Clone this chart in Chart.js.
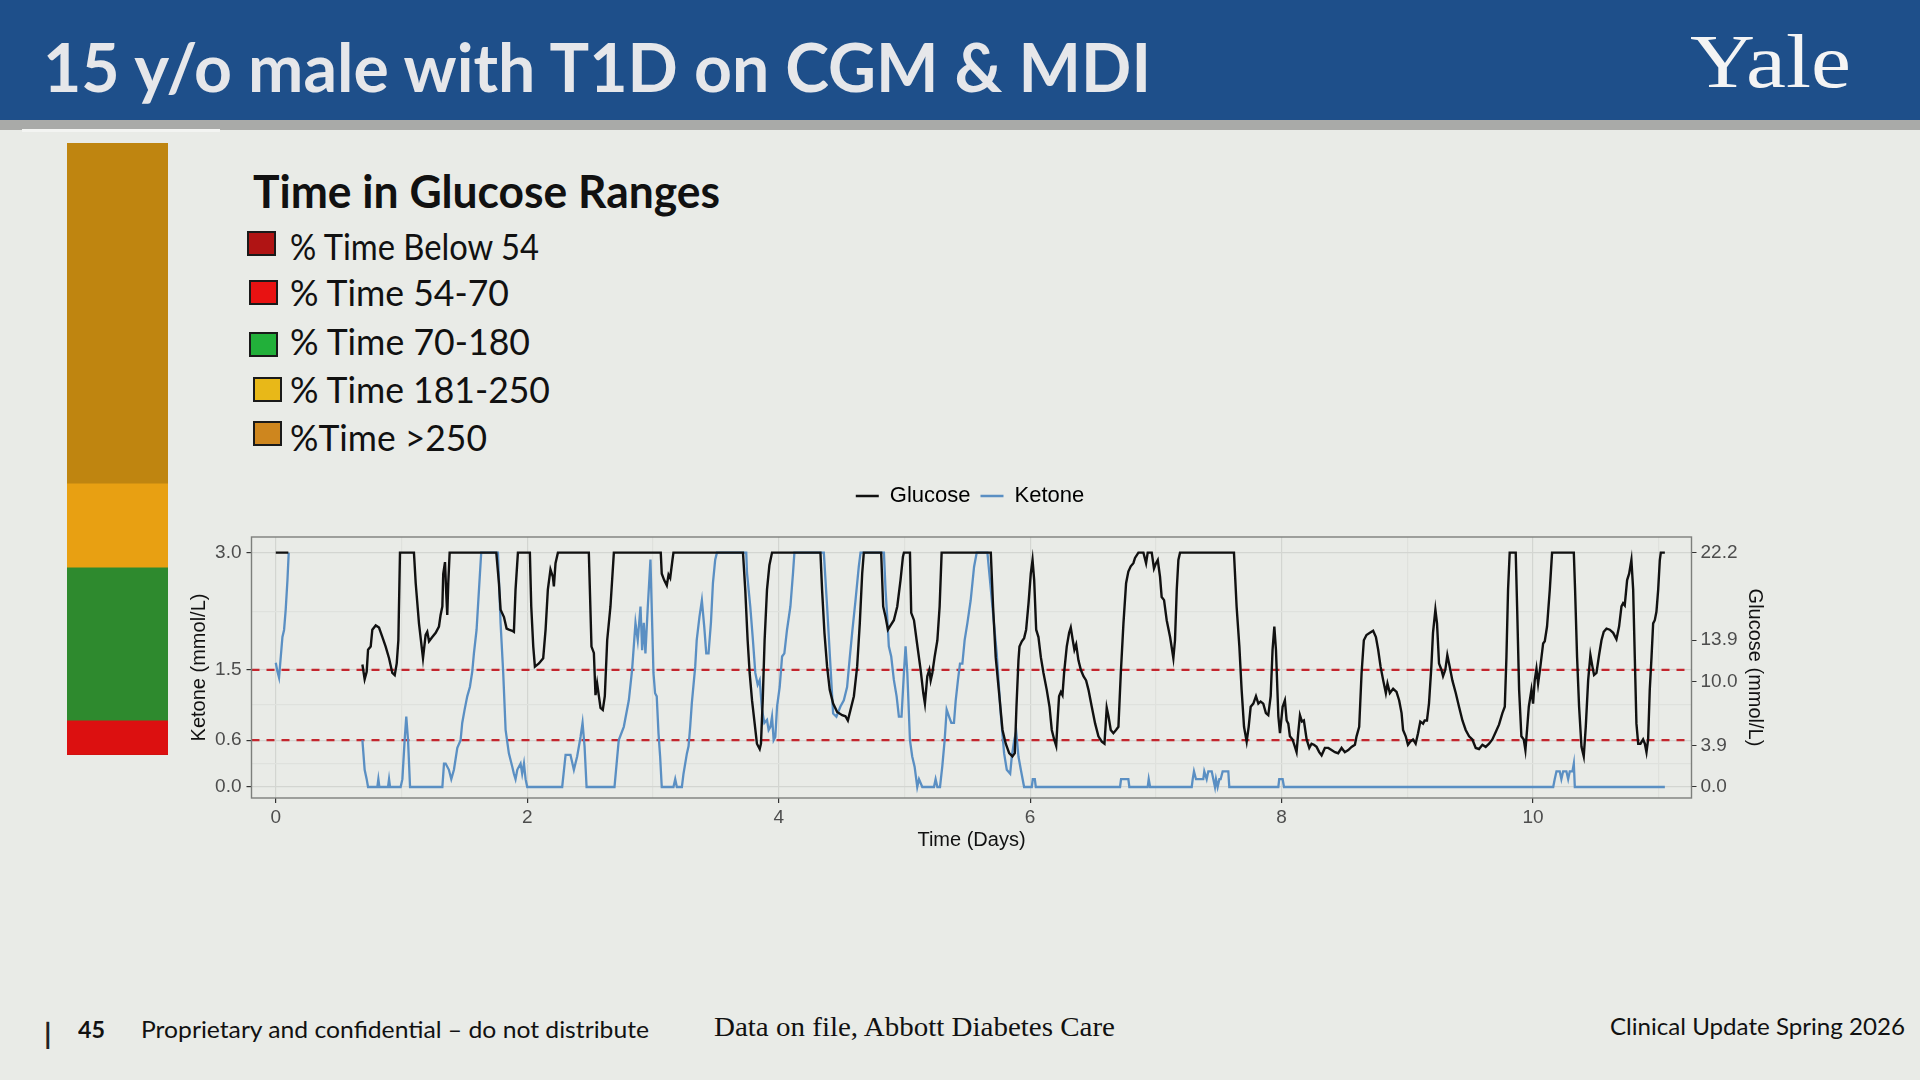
<!DOCTYPE html>
<html>
<head>
<meta charset="utf-8">
<script src="https://cdn.jsdelivr.net/npm/chart.js@4.4.1/dist/chart.umd.min.js"></script>
<style>
  html, body { margin: 0; padding: 0; }
  body { width: 1920px; height: 1080px; background: #e9ebe7; position: relative; overflow: hidden; }
  #header { position: absolute; left: 0; top: 0; width: 1920px; height: 120px; background: #1e4f8a; }
  #stripe { position: absolute; left: 0; top: 120px; width: 1920px; height: 10px; background: #a9aaa8; }
  #stripe2 { position: absolute; left: 22px; top: 129px; width: 198px; height: 3px; background: #f3f4f2; }
  .t { position: absolute; white-space: nowrap; transform-origin: 0 0; line-height: 1.2; }
  .sq { position: absolute; width: 25px; height: 21px; border: 2px solid #1a1a1a; }
  #barBox { position: absolute; left: 67px; top: 143px; width: 101px; height: 612px; }
  #cgmBox { position: absolute; left: 140px; top: 465px; width: 1660px; height: 395px; }
</style>
</head>
<body>
<div id="header"></div>
<div id="stripe"></div>
<div id="stripe2"></div>

<div class="t" data-base="92" data-w="1108" style="left:43px;font:700 66px Lato;color:#e6e7ea;">15 y/o male with T1D on CGM &amp; MDI</div>
<div class="t" data-base="87" data-w="161" style="left:1690px;font:400 76px 'Liberation Serif';color:#f4f4f4;">Yale</div>

<div id="barBox"><canvas id="barChart"></canvas></div>

<div class="t" data-base="208" data-w="467" style="left:253px;font:700 46px Lato;color:#111;">Time in Glucose Ranges</div>
<div id="rangeLegend"></div>

<div id="cgmBox"><canvas id="cgmChart"></canvas></div>

<div class="t" data-base="1044" style="left:44px;font:700 29px Lato;color:#222;">|</div>
<div class="t" data-base="1038" data-w="27" style="left:78px;font:700 23px Lato;color:#111;">45</div>
<div class="t" data-base="1038" data-w="508" style="left:141px;font:400 23px Lato;color:#111;">Proprietary and confidential – do not distribute</div>
<div class="t" data-base="1036" data-w="401" style="left:714px;font:400 27px 'Liberation Serif';color:#111;">Data on file, Abbott Diabetes Care</div>
<div class="t" data-base="1035" data-w="295" style="left:1610px;font:400 24px Lato;color:#111;">Clinical Update Spring 2026</div>

<script>
// time in range summary (percent of time)
const rangeLabels = ['% Time Below 54', '% Time 54-70', '% Time 70-180', '% Time 181-250', '%Time >250'];
const rangePercent = [0, 5.6, 25.0, 13.7, 55.7];

// CGM trace, glucose in mmol/L (sensor tops out at 22.2), null = no data
const glucoseDay = [
  0.000, 0.100, 0.400,
  0.689, 0.707, 0.723, 0.734, 0.755, 0.768, 0.795, 0.821, 0.848, 0.874, 0.901, 0.927, 0.946, 0.962, 0.975, 0.988,
  1.099, 1.113, 1.139, 1.171, 1.192, 1.205, 1.219, 1.245, 1.272, 1.298, 1.311, 1.325, 1.332, 1.346, 1.356, 1.364, 1.372, 1.383,
  1.754, 1.775, 1.788, 1.815, 1.836, 1.854, 1.881, 1.894, 1.907, 1.926,
  2.021, 2.032, 2.048, 2.061, 2.093, 2.127, 2.146, 2.164, 2.185, 2.204, 2.212, 2.225, 2.244,
  2.490, 2.511, 2.530, 2.543, 2.556, 2.570, 2.583, 2.601, 2.617, 2.636, 2.662, 2.689,
  3.062, 3.070, 3.089, 3.110, 3.124, 3.137, 3.155, 3.163,
  3.716, 3.734, 3.753, 3.769, 3.788, 3.809, 3.827, 3.849, 3.859, 3.873, 3.888, 3.907, 3.926, 3.947,
  4.332, 4.345, 4.364, 4.385, 4.406, 4.433, 4.465, 4.505, 4.531, 4.550, 4.571, 4.598, 4.624, 4.645, 4.664, 4.677,
  4.815, 4.831, 4.850, 4.869, 4.890, 4.916, 4.943, 4.969, 4.988, 4.996,
  5.044, 5.054, 5.076, 5.097, 5.129, 5.150, 5.163, 5.182, 5.198, 5.209, 5.222, 5.240, 5.262, 5.280, 5.296,
  5.687, 5.705, 5.726, 5.753, 5.780, 5.806, 5.833, 5.859, 5.878, 5.891, 5.907,
  5.915, 5.934, 5.952, 5.968, 5.987, 6.005, 6.019, 6.032, 6.048, 6.066, 6.085, 6.106, 6.132, 6.154, 6.172, 6.191, 6.207,
  6.217, 6.230, 6.244, 6.257, 6.270, 6.291, 6.310, 6.323, 6.339, 6.352, 6.366, 6.384, 6.403, 6.424, 6.445, 6.464, 6.490,
  6.517, 6.543, 6.570, 6.591, 6.609, 6.623, 6.641, 6.662, 6.683, 6.702, 6.721, 6.742, 6.763, 6.781, 6.800, 6.821, 6.834,
  6.861, 6.901, 6.922, 6.935, 6.967, 6.985, 7.001, 7.015, 7.033, 7.046, 7.065, 7.086, 7.113, 7.139, 7.152, 7.166, 7.179, 7.192,
  7.621, 7.642, 7.664, 7.682, 7.701, 7.722, 7.738, 7.754, 7.775, 7.796, 7.815, 7.833, 7.854, 7.875, 7.894, 7.913, 7.928,
  7.942, 7.955, 7.974, 7.987, 8.008, 8.026, 8.040, 8.053, 8.066, 8.087, 8.106, 8.119, 8.132, 8.146, 8.162, 8.177, 8.199,
  8.220, 8.238, 8.257, 8.278, 8.299, 8.318, 8.344, 8.371, 8.397, 8.424, 8.450, 8.477, 8.503, 8.530, 8.556, 8.583, 8.596,
  8.617, 8.636, 8.654, 8.675, 8.702, 8.728, 8.750, 8.768, 8.787, 8.808, 8.829, 8.842, 8.861, 8.887, 8.914, 8.935, 8.954,
  8.966, 8.987, 9.005, 9.024, 9.045, 9.066, 9.085, 9.103, 9.125, 9.138, 9.156, 9.172, 9.191, 9.204, 9.223, 9.236, 9.252,
  9.271, 9.284, 9.302, 9.318, 9.337, 9.358, 9.385, 9.411, 9.438, 9.464, 9.491, 9.517, 9.544, 9.570, 9.597, 9.623, 9.650,
  9.676, 9.703, 9.729, 9.756, 9.775, 9.788, 9.801, 9.814, 9.862, 9.873, 9.889, 9.907, 9.926, 9.939, 9.952, 9.966, 9.987,
  10.000, 10.013, 10.027, 10.040, 10.058, 10.080, 10.093, 10.111, 10.133, 10.151,
  10.324, 10.334, 10.350, 10.366, 10.385, 10.403, 10.419, 10.438, 10.456, 10.472, 10.485, 10.504, 10.525, 10.544, 10.562,
  10.584, 10.610, 10.637, 10.663, 10.684, 10.703, 10.716, 10.729, 10.748, 10.764, 10.782, 10.796, 10.809, 10.822, 10.836,
  10.854, 10.875, 10.889, 10.902, 10.915, 10.928, 10.942, 10.955, 10.968, 10.981, 10.995, 11.008, 11.016, 11.048
];
const glucoseMmol = [
  22.2, 22.2, null,
  11.6, 10.2, 10.9, 13.0, 13.3, 14.9, 15.3, 15.1, 14.2, 13.3, 12.2, 10.8, 10.6, 11.7, 13.9, 22.2,
  22.2, 19.3, 15.5, 12.2, 14.4, 14.7, 13.8, 14.2, 14.6, 15.2, 16.3, 17.1, 20.2, 21.3, 18.3, 16.3, 19.3, 22.2,
  22.2, 19.3, 16.8, 16.1, 15.0, 14.9, 14.8, 14.7, 18.7, 22.2,
  22.2, 17.1, 13.3, 11.4, 11.7, 12.2, 14.9, 18.7, 20.6, 19.9, 19.0, 21.2, 22.2,
  22.2, 13.3, 12.7, 8.7, 9.8, 8.6, 7.5, 7.3, 8.6, 13.9, 17.1, 22.2,
  22.2, 20.2, 19.6, 19.1, 20.1, 19.8, 21.5, 22.2,
  22.2, 18.7, 13.9, 10.8, 8.2, 6.0, 4.1, 3.6, 4.1, 8.2, 13.9, 18.7, 21.0, 22.2,
  22.2, 18.7, 14.6, 11.4, 9.2, 7.9, 7.1, 6.8, 6.7, 6.3, 7.3, 8.6, 11.4, 15.5, 20.2, 22.2,
  22.2, 17.1, 16.1, 14.9, 15.3, 15.8, 17.1, 19.6, 21.8, 22.2,
  22.2, 16.5, 15.8, 13.9, 11.1, 8.9, 7.9, 10.5, 11.1, 10.1, 10.8, 12.3, 13.9, 17.1, 22.2,
  22.2, 17.1, 12.3, 8.9, 5.4, 4.1, 3.2, 2.9, 3.2, 7.6, 12.0,
  13.3, 13.8, 14.1, 14.9, 17.4, 20.2, 21.5, 19.6, 14.9, 14.2, 12.3, 10.8, 9.2, 7.6, 5.4, 4.5, 3.9,
  6.0, 8.6, 9.0, 8.7, 10.8, 13.3, 14.6, 15.1, 13.9, 13.0, 13.5, 12.0, 11.1, 10.5, 10.1, 9.2, 7.6,
  6.0, 4.8, 4.3, 4.1, 7.5, 6.7, 5.4, 5.1, 5.4, 5.7, 10.8, 15.5, 19.3, 20.4, 20.9, 21.2, 21.7,
  22.2, 22.2, 21.2, 22.2, 22.2, 20.7, 21.2, 21.5, 19.9, 18.0, 17.7, 15.8, 14.2, 12.2, 13.9, 18.7, 21.5, 22.2,
  22.2, 17.1, 13.3, 9.2, 5.7, 4.3, 5.7, 7.6, 7.9, 8.6, 7.9, 8.1, 7.9, 7.0, 6.8, 8.6, 13.0,
  15.2, 13.0, 6.7, 5.1, 7.6, 8.2, 6.3, 6.0, 4.8, 4.5, 3.8, 3.3, 5.1, 6.8, 6.2, 6.3, 4.5,
  3.7, 4.1, 4.0, 3.8, 3.3, 3.0, 3.7, 3.7, 3.5, 3.3, 3.2, 3.7, 3.3, 3.5, 3.8, 4.0, 4.8,
  5.7, 10.8, 13.9, 14.4, 14.6, 14.8, 14.2, 13.0, 11.4, 10.1, 8.9, 9.8, 8.9, 9.3, 9.0, 8.2, 7.0,
  5.4, 4.8, 4.0, 4.3, 4.5, 4.1, 5.1, 6.2, 6.0, 6.3, 6.3, 7.9, 11.4, 14.6, 16.8, 15.5, 11.7,
  11.1, 10.5, 11.1, 12.5, 11.4, 10.1, 8.9, 7.6, 6.3, 5.4, 4.8, 4.5, 3.7, 3.6, 4.0, 3.8, 4.1,
  4.5, 5.2, 5.9, 7.0, 7.6, 12.3, 18.7, 22.2, 22.2, 17.1, 9.2, 4.8, 4.5, 3.5, 5.4, 7.6, 9.2,
  7.9, 10.1, 11.2, 9.8, 11.4, 13.6, 13.8, 15.2, 18.7, 22.2,
  22.2, 18.7, 12.3, 7.6, 3.8, 2.9, 5.7, 10.1, 12.5, 11.4, 10.6, 10.8, 12.5, 13.9, 14.7,
  15.0, 14.9, 14.6, 14.0, 15.2, 17.1, 17.4, 17.2, 19.6, 20.2, 21.5, 18.7, 12.3, 6.0, 4.1,
  4.1, 4.5, 4.1, 3.3, 4.5, 9.2, 12.3, 15.5, 15.8, 16.6, 18.7, 21.5, 22.2, 22.2
];

// blood ketone in mmol/L, null = no data
const ketoneDay = [
  0.000, 0.013, 0.026, 0.040, 0.053, 0.066, 0.079, 0.093, 0.103, 0.400,
  0.689, 0.707, 0.723, 0.734, 0.808, 0.816, 0.824, 0.893, 0.901, 0.909, 0.993, 1.007, 1.025, 1.038, 1.052, 1.068,
  1.325, 1.338, 1.351, 1.377, 1.396, 1.417, 1.444, 1.470, 1.483, 1.502, 1.523, 1.544, 1.563, 1.576, 1.597, 1.616, 1.634,
  1.767, 1.788, 1.809, 1.828, 1.854, 1.881, 1.894, 1.907, 1.921, 1.947, 1.960, 1.974, 1.987, 2.000,
  2.278, 2.305, 2.344, 2.371, 2.397, 2.424, 2.440, 2.456, 2.472,
  2.694, 2.728, 2.768, 2.808, 2.834, 2.861, 2.879, 2.901, 2.914, 2.927, 2.940, 2.959, 2.980,
  3.004, 3.017, 3.030, 3.044, 3.057, 3.070, 3.163, 3.177, 3.190, 3.230, 3.243, 3.270, 3.283, 3.296, 3.309,
  3.336, 3.348, 3.370, 3.389, 3.408, 3.424, 3.442, 3.461, 3.477, 3.495, 3.509,
  3.742, 3.748, 3.774, 3.795, 3.814, 3.833, 3.849, 3.867, 3.886, 3.907, 3.920, 3.934, 3.947, 3.960, 3.973, 3.987,
  4.008, 4.027, 4.045, 4.066, 4.093, 4.114, 4.125,
  4.359, 4.385, 4.412, 4.433, 4.459, 4.491, 4.518, 4.544, 4.566, 4.584, 4.611, 4.637, 4.651,
  4.837, 4.850, 4.863, 4.876, 4.895, 4.916, 4.938, 4.956, 4.977, 4.996, 5.009, 5.023, 5.044, 5.062, 5.081, 5.102,
  5.116, 5.142, 5.235, 5.248, 5.262, 5.283, 5.301, 5.320, 5.336, 5.355, 5.373, 5.394, 5.408, 5.426, 5.442, 5.461,
  5.479, 5.501, 5.527, 5.554, 5.575,
  5.660, 5.700, 5.734, 5.766, 5.793, 5.814, 5.841, 5.854, 5.873, 5.889, 5.907, 5.926, 5.952,
  6.013, 6.021, 6.037, 6.045, 6.715, 6.723, 6.781, 6.789, 6.935, 6.943, 6.954,
  7.285, 7.293, 7.303, 7.319, 7.377, 7.385, 7.404, 7.417, 7.444, 7.457, 7.470, 7.478, 7.491, 7.505, 7.515, 7.531,
  7.576, 7.584, 7.974, 7.981, 8.008, 8.019,
  10.160, 10.172, 10.186, 10.212, 10.225, 10.239, 10.265, 10.279, 10.292, 10.313, 10.324, 10.332, 11.048
];
const ketoneMmol = [
  1.59, 1.48, 1.40, 1.67, 1.92, 2.01, 2.27, 2.65, 3.00, null,
  0.60, 0.22, 0.10, 0, 0, 0.10, 0, 0, 0.10, 0, 0, 0.10, 0.60, 0.90, 0.60, 0,
  0, 0.30, 0.30, 0.22, 0.10, 0.22, 0.50, 0.60, 0.82, 0.99, 1.16, 1.28, 1.48, 1.71, 2.01, 2.52, 3.00,
  3.00, 2.10, 1.46, 0.73, 0.43, 0.26, 0.17, 0.10, 0.22, 0.30, 0.17, 0.30, 0.10, 0,
  0, 0.41, 0.41, 0.22, 0.39, 0.64, 0.82, 0.52, 0,
  0, 0.60, 0.77, 1.11, 1.50, 2.10, 1.88, 2.31, 1.75, 2.10, 1.71, 2.31, 2.91,
  1.46, 1.20, 1.16, 0.69, 0.39, 0, 0, 0.10, 0, 0, 0.17, 0.43, 0.52, 0.77, 1.07,
  1.54, 1.88, 2.18, 2.39, 2.05, 1.71, 1.71, 2.10, 2.61, 2.91, 3.00,
  3.00, 2.74, 2.31, 1.88, 1.46, 1.31, 1.37, 0.99, 0.82, 0.86, 0.73, 0.77, 0.90, 0.60, 0.64, 1.03,
  1.28, 1.67, 1.71, 2.01, 2.31, 2.74, 3.00,
  3.00, 2.31, 1.54, 0.94, 0.90, 1.03, 1.11, 1.28, 1.67, 1.97, 2.39, 2.82, 3.00,
  3.00, 2.52, 2.18, 1.80, 1.67, 1.37, 1.16, 0.90, 0.90, 1.46, 1.80, 1.46, 0.60, 0.39, 0.26, 0,
  0.10, 0, 0, 0.10, 0, 0, 0.26, 0.60, 0.99, 0.90, 0.82, 0.82, 1.11, 1.37, 1.58, 1.58,
  1.88, 2.10, 2.39, 2.82, 3.00,
  3.00, 2.31, 1.71, 0.94, 0.43, 0.22, 0.17, 0.39, 0.60, 0.71, 0.39, 0.22, 0,
  0, 0.10, 0.10, 0, 0, 0.10, 0.10, 0, 0, 0.10, 0,
  0, 0.10, 0.20, 0.10, 0.10, 0.20, 0.10, 0.20, 0.20, 0.10, 0, 0.10, 0, 0.10, 0.10, 0.20,
  0.20, 0, 0, 0.10, 0.10, 0,
  0, 0.10, 0.20, 0.20, 0.10, 0.20, 0.20, 0.10, 0.20, 0.20, 0.30, 0, 0
];

// ketone alert thresholds (mmol/L)
const ketoneThresholds = [1.5, 0.6];

// axis breaks
const dayTicks = [0, 1, 2, 3, 4, 5, 6, 7, 8, 9, 10, 11];
const dayLabels = [0, 2, 4, 6, 8, 10];
const ketoneTicks = [0, 0.3, 0.6, 1.05, 1.5, 2.25, 3.0];
const ketoneLabels = [0, 0.6, 1.5, 3.0];
const glucoseTicks = [0, 3.9, 10.0, 13.9, 22.2];

// axis limits, glucose axis is the ketone axis times 22.2/3.0
const dayMin = -0.193, dayMax = 11.26;
const ketoneMin = -0.141, ketoneMax = 3.2;
const glucosePerKetone = 22.2 / 3.0;

const rangeColors = ['#b01414', '#dc1010', '#2e8a2e', '#e8a012', '#bf8510'];
const swatchColors = ['#b01414', '#e81212', '#22b03a', '#e8b818', '#ce861e'];

const sansFont = "'Liberation Sans', Arial, sans-serif";
const majorGrid = '#d3d5d1';
const minorGrid = '#dfe1dd';

function toPoints(xs, ys) {
    return xs.map((x, i) => ({ x: x, y: ys[i] }));
}

function buildRangeLegend() {
    const box = document.getElementById('rangeLegend');
    const rowBase = [260, 306, 355, 403, 451];
    const rowWidth = [249, 219, 240, 260, 197];
    const swatchPos = [[247, 231], [249, 280], [249, 332], [253, 377], [253, 421]];
    rangeLabels.forEach((label, i) => {
        const sq = document.createElement('div');
        sq.className = 'sq';
        sq.style.left = swatchPos[i][0] + 'px';
        sq.style.top = swatchPos[i][1] + 'px';
        sq.style.background = swatchColors[i];
        box.appendChild(sq);

        const txt = document.createElement('div');
        txt.className = 't';
        txt.dataset.base = rowBase[i];
        txt.dataset.w = rowWidth[i];
        txt.style.left = '290px';
        txt.style.font = '400 37px Lato';
        txt.style.color = '#111';
        txt.textContent = label;
        box.appendChild(txt);
    });
}

function placeText() {
    document.querySelectorAll('.t').forEach(el => {
        const probe = document.createElement('span');
        probe.style.cssText = 'display:inline-block;width:0;height:0;vertical-align:baseline;';
        el.appendChild(probe);
        const base = probe.offsetTop;
        el.removeChild(probe);
        el.style.top = (parseFloat(el.dataset.base) - base) + 'px';
        if (el.dataset.w) {
            const w = el.getBoundingClientRect().width;
            el.style.transform = 'scaleX(' + (parseFloat(el.dataset.w) / w) + ')';
        }
    });
}

function initBarChart() {
    new Chart(document.getElementById('barChart'), {
        type: 'bar',
        data: {
            labels: ['TIR'],
            datasets: rangeLabels.map((label, i) => ({
                label: label,
                data: [rangePercent[i]],
                backgroundColor: rangeColors[i],
                borderWidth: 0,
                barPercentage: 1,
                categoryPercentage: 1
            }))
        },
        options: {
            responsive: true,
            maintainAspectRatio: false,
            animation: false,
            layout: { padding: 0 },
            scales: {
                x: { stacked: true, display: false },
                y: { stacked: true, display: false, min: 0, max: 100 }
            },
            plugins: { legend: { display: false }, tooltip: { enabled: false } }
        }
    });
}

// panel frame like a ggplot theme_bw border
const panelBorder = {
    id: 'panelBorder',
    afterDraw(chart) {
        const a = chart.chartArea;
        const ctx = chart.ctx;
        ctx.save();
        ctx.strokeStyle = '#7d7f7c';
        ctx.lineWidth = 1.4;
        ctx.strokeRect(a.left, a.top, a.right - a.left, a.bottom - a.top);
        ctx.restore();
    }
};

// give the legend a fixed band above the panel
const legendBand = {
    id: 'legendBand',
    beforeInit(chart) {
        const fit = chart.legend.fit;
        chart.legend.fit = function() {
            fit.call(this);
            this.height = 62;
        };
    }
};

function initCgmChart() {
    const datasets = [
        {
            label: 'Glucose',
            data: toPoints(glucoseDay, glucoseMmol),
            yAxisID: 'y2',
            borderColor: '#111111',
            borderWidth: 2.4,
            pointRadius: 0,
            tension: 0,
            spanGaps: false
        },
        {
            label: 'Ketone',
            data: toPoints(ketoneDay, ketoneMmol),
            yAxisID: 'y',
            borderColor: '#5a8fc3',
            borderWidth: 2.3,
            pointRadius: 0,
            tension: 0,
            spanGaps: false
        }
    ];
    ketoneThresholds.forEach(level => {
        datasets.push({
            label: '',
            data: [{ x: dayMin, y: level }, { x: dayMax, y: level }],
            yAxisID: 'y',
            borderColor: '#c4262e',
            borderWidth: 2.2,
            borderDash: [8, 7],
            pointRadius: 0
        });
    });

    const tickFont = { family: sansFont, size: 19 };
    const titleFont = { family: sansFont, size: 20 };

    new Chart(document.getElementById('cgmChart'), {
        type: 'line',
        data: { datasets: datasets },
        options: {
            responsive: true,
            maintainAspectRatio: false,
            animation: false,
            layout: { padding: { top: 10, left: 0, right: 0, bottom: 0 } },
            scales: {
                x: {
                    type: 'linear',
                    min: dayMin,
                    max: dayMax,
                    afterBuildTicks: scale => { scale.ticks = dayTicks.map(v => ({ value: v })); },
                    afterFit: scale => { scale.height = 62; },
                    ticks: {
                        autoSkip: false,
                        maxRotation: 0,
                        padding: 3,
                        color: '#4d4d4d',
                        font: tickFont,
                        callback: v => dayLabels.includes(v) ? String(v) : ''
                    },
                    grid: {
                        color: c => dayLabels.includes(c.tick.value) ? majorGrid : minorGrid,
                        lineWidth: 1.2,
                        drawTicks: true,
                        tickLength: 5,
                        tickColor: c => dayLabels.includes(c.tick.value) ? '#333' : 'rgba(0,0,0,0)'
                    },
                    border: { display: false },
                    title: {
                        display: true,
                        text: 'Time (Days)',
                        color: '#111',
                        font: titleFont,
                        padding: { top: 0, bottom: 8 }
                    }
                },
                y: {
                    type: 'linear',
                    position: 'left',
                    min: ketoneMin,
                    max: ketoneMax,
                    afterBuildTicks: scale => { scale.ticks = ketoneTicks.map(v => ({ value: v })); },
                    afterFit: scale => { scale.width = 111.5; },
                    ticks: {
                        padding: 5,
                        color: '#4d4d4d',
                        font: tickFont,
                        callback: v => ketoneLabels.includes(v) ? v.toFixed(1) : ''
                    },
                    grid: {
                        color: c => ketoneLabels.includes(c.tick.value) ? majorGrid : minorGrid,
                        lineWidth: 1.2,
                        drawTicks: true,
                        tickLength: 5,
                        tickColor: c => ketoneLabels.includes(c.tick.value) ? '#333' : 'rgba(0,0,0,0)'
                    },
                    border: { display: false },
                    title: {
                        display: true,
                        text: 'Ketone (mmol/L)',
                        color: '#111',
                        font: titleFont,
                        padding: { top: 47, bottom: 0 }
                    }
                },
                y2: {
                    type: 'linear',
                    position: 'right',
                    min: ketoneMin * glucosePerKetone,
                    max: ketoneMax * glucosePerKetone,
                    afterBuildTicks: scale => { scale.ticks = glucoseTicks.map(v => ({ value: v })); },
                    afterFit: scale => { scale.width = 108.5; },
                    ticks: {
                        padding: 4,
                        color: '#4d4d4d',
                        font: tickFont,
                        callback: v => v.toFixed(1)
                    },
                    grid: {
                        drawOnChartArea: false,
                        drawTicks: true,
                        tickLength: 5,
                        tickColor: '#333'
                    },
                    border: { display: false },
                    title: {
                        display: true,
                        text: 'Glucose (mmol/L)',
                        color: '#111',
                        font: titleFont,
                        padding: { top: 33, bottom: 0 }
                    }
                }
            },
            plugins: {
                tooltip: { enabled: false },
                legend: {
                    position: 'top',
                    align: 'center',
                    labels: {
                        boxWidth: 23,
                        boxHeight: 2.5,
                        padding: 10,
                        color: '#1a1a1a',
                        font: { family: sansFont, size: 22 },
                        generateLabels: chart => chart.data.datasets
                            .map((ds, i) => ({
                                text: ds.label,
                                fillStyle: ds.borderColor,
                                strokeStyle: ds.borderColor,
                                lineWidth: 0,
                                hidden: false,
                                datasetIndex: i
                            }))
                            .filter(item => item.text)
                    }
                }
            }
        },
        plugins: [legendBand, panelBorder]
    });
}

buildRangeLegend();
placeText();
initBarChart();
initCgmChart();
</script>
</body>
</html>
